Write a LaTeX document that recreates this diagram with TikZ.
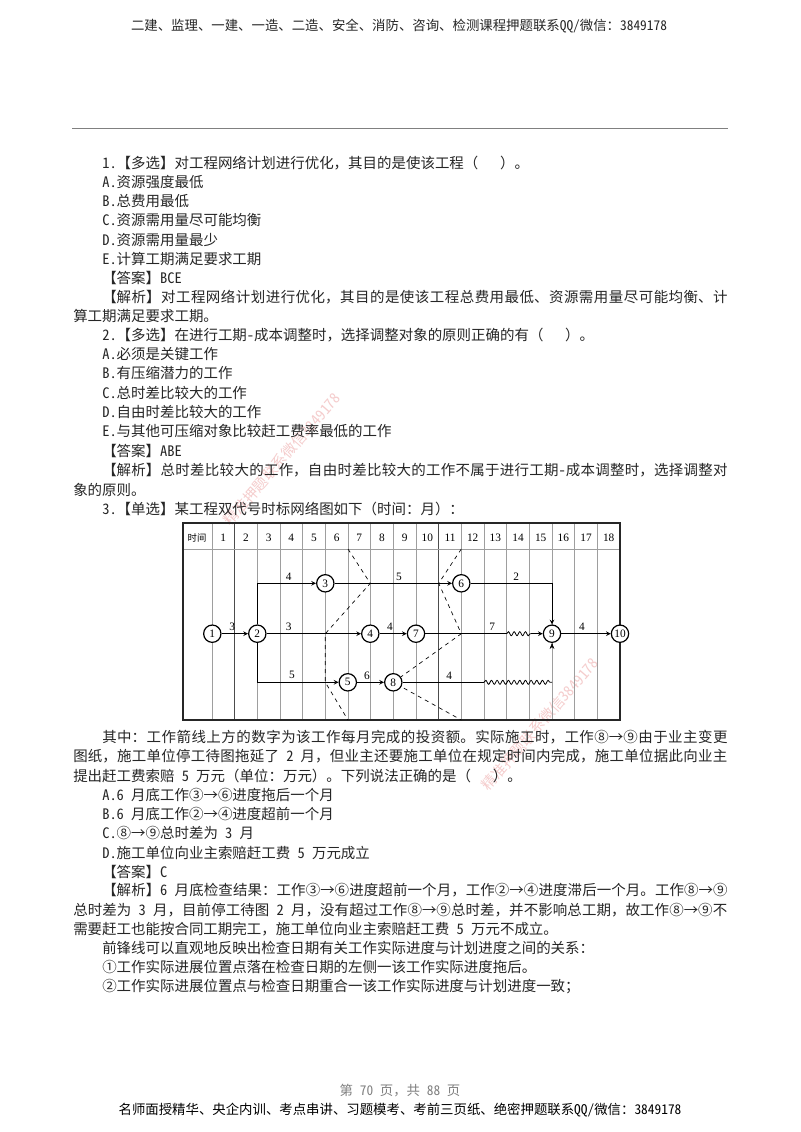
\documentclass[tikz,border=0pt]{standalone}
\usepackage{fontspec}
\usetikzlibrary{decorations.pathmorphing,arrows.meta}
\setmainfont{Noto Sans CJK SC}
\newfontfamily\hwfont[RawFeature={+hwid}]{Noto Sans CJK SC}
\newfontfamily\chartfont{Liberation Serif}
\XeTeXlinebreaklocale "zh"
\XeTeXlinebreakskip=0pt plus 1pt
\definecolor{inkgray}{gray}{.15}
\definecolor{gridgray}{gray}{.62}
\definecolor{markpink}{RGB}{245,205,205}
\tikzset{
  bodyline/.style={anchor=west,inner sep=0pt,font=\fontsize{10.85}{12}\selectfont,text=inkgray},
  pageline/.style={inner sep=0pt,font=\fontsize{10.05}{12}\selectfont,text=inkgray},
  event/.style={circle,draw,fill=white,line width=.9pt,inner sep=0pt,minimum size=13pt,font=\chartfont\fontsize{8.5}{9}\selectfont},
  numlab/.style={inner sep=0pt,font=\chartfont\fontsize{8.5}{9}\selectfont,text=black},
  work/.style={->,>=stealth,line width=.6pt},
  front/.style={dashed,line width=.5pt},
  wavy/.style={decorate,decoration={snake,segment length=4.25pt,amplitude=1.5pt}},
  stamp/.style={rotate=49,inner sep=0pt,text=markpink,font=\fontsize{11}{12}\selectfont}
}
\newcommand{\lat}[1]{{\hwfont #1}}
\newcommand{\numgap}{\hspace{.5em}}
\newcommand{\fullline}[1]{\parbox{490.5pt}{\tolerance=10000\parfillskip=0pt #1}}
\newcommand{\indentline}[1]{\parbox{469pt}{\tolerance=10000\parfillskip=0pt #1}}
\newcommand{\gapblank}{\hspace{1.5em}}
\begin{document}
\begin{tikzpicture}[x=.75pt,y=-.75pt]
\useasboundingbox (0,0) rectangle (800,1132);
\fill[white] (0,0) rectangle (800,1132);
% page head and foot
\node[pageline] (headline) at (399,26) {二建、监理、一建、一造、二造、安全、消防、咨询、检测课程押题联系\lat{QQ/}微信：\lat{3849178}};
\coordinate (ruleL) at (72,128.5);
\coordinate (ruleR) at (728,128.5);
\draw[gray,line width=.8pt] (ruleL)--(ruleR);
\node[pageline,text=gray] (pageno) at (400,1091) {第\numgap{}\lat{70}\numgap{}页，共\numgap{}\lat{88}\numgap{}页};
\node[pageline,text=black] (footline) at (400,1110) {名师面授精华、央企内训、考点串讲、习题模考、考前三页纸、绝密押题联系\lat{QQ/}微信：\lat{3849178}};
% watermarks
\node[stamp] (markA) at (282,459) {精准押题联系微信\lat{3849178}};
\node[stamp] (markB) at (540,724) {精准押题联系微信\lat{3849178}};
% text above the chart
\node[bodyline] (q1) at (102,162.7) {\lat{1.}【多选】对工程网络计划进行优化，其目的是使该工程（\gapblank）。};
\node[bodyline] (q1a) at (102,182) {\lat{A.}资源强度最低};
\node[bodyline] (q1b) at (102,201.1) {\lat{B.}总费用最低};
\node[bodyline] (q1c) at (102,220.4) {\lat{C.}资源需用量尽可能均衡};
\node[bodyline] (q1d) at (102,239.6) {\lat{D.}资源需用量最少};
\node[bodyline] (q1e) at (102,258.9) {\lat{E.}计算工期满足要求工期};
\node[bodyline] (q1k) at (102,278) {【答案】\lat{BCE}};
\node[bodyline] (q1x) at (102,297) {\indentline{【解析】对工程网络计划进行优化，其目的是使该工程总费用最低、资源需用量尽可能均衡、计}};
\node[bodyline] (q1y) at (73,316) {算工期满足要求工期。};
\node[bodyline] (q2) at (102,335) {\lat{2.}【多选】在进行工期\lat{-}成本调整时，选择调整对象的原则正确的有（\gapblank）。};
\node[bodyline] (q2a) at (102,354) {\lat{A.}必须是关键工作};
\node[bodyline] (q2b) at (102,373.3) {\lat{B.}有压缩潜力的工作};
\node[bodyline] (q2c) at (102,392.7) {\lat{C.}总时差比较大的工作};
\node[bodyline] (q2d) at (102,411.8) {\lat{D.}自由时差比较大的工作};
\node[bodyline] (q2e) at (102,431) {\lat{E.}与其他可压缩对象比较赶工费率最低的工作};
\node[bodyline] (q2k) at (102,451) {【答案】\lat{ABE}};
\node[bodyline] (q2x) at (102,470) {\indentline{【解析】总时差比较大的工作，自由时差比较大的工作不属于进行工期\lat{-}成本调整时，选择调整对}};
\node[bodyline] (q2y) at (73,489.5) {象的原则。};
\node[bodyline] (q3) at (102,509) {\lat{3.}【单选】某工程双代号时标网络图如下（时间：月）：};
% chart frame
\coordinate (frameNW) at (182.7,523);
\coordinate (frameSE) at (620,720);
\foreach \k in {0,...,17}
{
  \draw[gridgray,line width=.35pt] ({212+22.67*\k},523)--({212+22.67*\k},720);
}
\draw[black!70,line width=.6pt] ({212+22.67},523)--({212+22.67},720);
\draw[black!70,line width=.6pt] ({212+22.67*10},523)--({212+22.67*10},720);
\draw[gridgray,line width=.4pt] (182.7,549)--(620,549);
\draw[line width=1.2pt,black!85] (frameNW) rectangle (frameSE);
\node[numlab,font=\fontsize{7}{8}\selectfont] (timehead) at (197,537.5) {时间};
\foreach \k in {1,...,18}
{
  \node[numlab] (h\k) at ({223.3+22.67*(\k-1)},537.5) {\k};
}
% front line
\coordinate (fa) at (348,549);
\coordinate (fb) at (370.3,583.3);
\coordinate (fc) at (325.3,633.7);
\coordinate (fd) at (325.3,682.3);
\coordinate (fe) at (348,720);
\coordinate (ga) at (461.3,549);
\coordinate (gb) at (438.7,583.3);
\coordinate (gc) at (461.3,633.7);
\coordinate (gd) at (393.3,682.3);
\coordinate (ge) at (461.3,720);
\draw[front] (fa)--(fb)--(fc)--(fd)--(fe);
\draw[front] (ga)--(gb)--(gc)--(gd)--(ge);
% events
\node[event] (n1) at (212.3,633.7) {1};
\node[event] (n2) at (257.3,633.7) {2};
\node[event] (n3) at (325.3,583.3) {3};
\node[event] (n4) at (370.3,633.7) {4};
\node[event] (n5) at (347.8,682.3) {5};
\node[event] (n6) at (461.3,583.3) {6};
\node[event] (n7) at (416,633.7) {7};
\node[event] (n8) at (393.3,682.3) {8};
\node[event] (n9) at (552,633.7) {9};
\node[event] (n10) at (620,633.7) {10};
% works
\coordinate (waveA) at (506.7,633.7);
\coordinate (waveB) at (531,633.7);
\coordinate (waveC) at (484,682.3);
\coordinate (waveD) at (552,682.3);
\draw[work] (n1)--(n2);
\draw[work] (n2)|-(n3);
\draw[work] (n2)--(n4);
\draw[work] (n2)|-(n5);
\draw[work] (n3)--(n6);
\draw[work] (n4)--(n7);
\draw[work] (n5)--(n8);
\draw[work] (n6)-|(n9);
\draw[line width=.6pt] (n7)--(waveA);
\draw[line width=.6pt,wavy] (waveA)--(waveB);
\draw[work] (waveB)--(n9);
\draw[line width=.6pt] (n8)--(waveC);
\draw[line width=.6pt,wavy] (waveC)--(waveD);
\draw[gridgray,line width=.35pt,-{Stealth[black,length=4.5pt,width=3.5pt]}] (waveD)--(n9);
\draw[work] (n9)--(n10);
% work labels
\foreach \px/\py/\t in {232.3/627/3,288.7/577/4,288.7/627/3,292/675/5,399/577/5,516.3/577/2,390/627/4,367/676/6,449.3/676/4,492.3/627/7,582/627/4}
{
  \node[numlab] (w\px) at (\px,\py) {\t};
}
% text below the chart
\node[bodyline] (r1) at (102,737) {\indentline{其中：工作箭线上方的数字为该工作每月完成的投资额。实际施工时，工作⑧→⑨由于业主变更}};
\node[bodyline] (r2) at (73,756) {\fullline{图纸，施工单位停工待图拖延了\numgap{}\lat{2}\numgap{}月，但业主还要施工单位在规定时间内完成，施工单位据此向业主}};
\node[bodyline] (r3) at (73,775.5) {提出赶工费索赔\numgap{}\lat{5}\numgap{}万元（单位：万元）。下列说法正确的是（\gapblank）。};
\node[bodyline] (r4) at (102,795) {\lat{A.6}\numgap{}月底工作③→⑥进度拖后一个月};
\node[bodyline] (r5) at (102,814) {\lat{B.6}\numgap{}月底工作②→④进度超前一个月};
\node[bodyline] (r6) at (102,833) {\lat{C.}⑧→⑨总时差为\numgap{}\lat{3}\numgap{}月};
\node[bodyline] (r7) at (102,852.5) {\lat{D.}施工单位向业主索赔赶工费\numgap{}\lat{5}\numgap{}万元成立};
\node[bodyline] (r8) at (102,871.5) {【答案】\lat{C}};
\node[bodyline] (r9) at (102,890.5) {\indentline{【解析】\lat{6}\numgap{}月底检查结果：工作③→⑥进度超前一个月，工作②→④进度滞后一个月。工作⑧→⑨}};
\node[bodyline] (r10) at (73,909.7) {\fullline{总时差为\numgap{}\lat{3}\numgap{}月，目前停工待图\numgap{}\lat{2}\numgap{}月，没有超过工作⑧→⑨总时差，并不影响总工期，故工作⑧→⑨不}};
\node[bodyline] (r11) at (73,929) {需要赶工也能按合同工期完工，施工单位向业主索赔赶工费\numgap{}\lat{5}\numgap{}万元不成立。};
\node[bodyline] (r12) at (102,948.2) {前锋线可以直观地反映出检查日期有关工作实际进度与计划进度之间的关系：};
\node[bodyline] (r13) at (102,967.4) {①工作实际进展位置点落在检查日期的左侧一该工作实际进度拖后。};
\node[bodyline] (r14) at (102,986.6) {②工作实际进展位置点与检查日期重合一该工作实际进度与计划进度一致；};
\end{tikzpicture}
\end{document}
